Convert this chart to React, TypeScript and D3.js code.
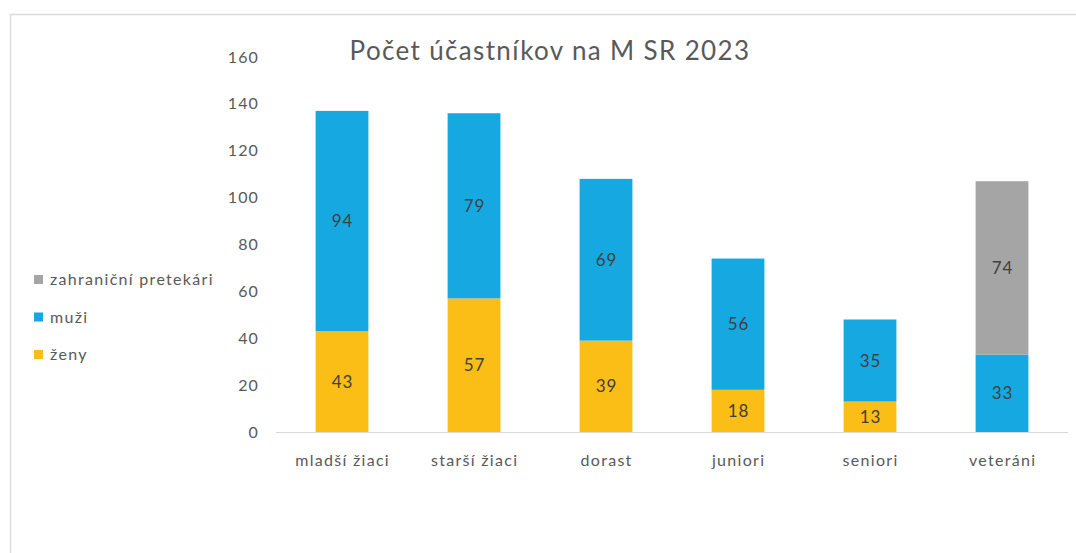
import React from "react";
import * as d3 from "d3";

const categories = ["mladší žiaci", "starší žiaci", "dorast", "juniori", "seniori", "veteráni"];
const zeny = [43, 57, 39, 18, 13, 0];
const muzi = [94, 79, 69, 56, 35, 33];
const zahranicni = [0, 0, 0, 0, 0, 74];
const seriesNames = ["ženy", "muži", "zahraniční pretekári"];
const seriesColors = ["#FBBE17", "#16A8E0", "#A5A5A5"];
const yTicks = [0, 20, 40, 60, 80, 100, 120, 140, 160];
const title = "Počet účastníkov na M SR 2023";

const FONT = "Lato, 'Open Sans', sans-serif";

export default function App() {
  const W = 1076, H = 553;
  const left = 276, right = 1068, top = 57, bottom = 432;
  const x = d3.scaleBand<string>().domain(categories).range([left, right]).paddingInner(0.6).paddingOuter(0.3);
  const y = d3.scaleLinear().domain([0, 160]).range([bottom, top]);
  const rows = categories.map((c, i) => ({ cat: c, "ženy": zeny[i], "muži": muzi[i], "zahraniční pretekári": zahranicni[i] }));
  const stack = d3.stack<any>().keys(seriesNames)(rows);
  const legendOrder = [2, 1, 0];
  return (
    <svg width={W} height={H} style={{ position: "absolute", left: 0, top: 0, background: "#fff" }} fontFamily={FONT}>
      <line x1={10.5} y1={14} x2={10.5} y2={H} stroke="#DCDCDC" strokeWidth={1.5} />
      <line x1={10} y1={14.5} x2={W} y2={14.5} stroke="#DCDCDC" strokeWidth={1.5} />
      <text x={550} y={60} textAnchor="middle" fontSize={26} letterSpacing={1.35} fill="#595959">{title}</text>
      {yTicks.map(t => (
        <text key={t} x={259} y={y(t) + 5.5} textAnchor="end" fontSize={16} letterSpacing={1.1} fill="#595959">{t}</text>
      ))}
      {stack.map((s, si) => (
        <g key={s.key} fill={seriesColors[si]}>
          {s.map((d, i) => d[1] - d[0] > 0 ? (
            <g key={i}>
              <rect x={x(categories[i])} y={y(d[1])} width={x.bandwidth()} height={y(d[0]) - y(d[1])} />
              <text x={(x(categories[i]) as number) + x.bandwidth() / 2 + 0.5} y={(y(d[0]) + y(d[1])) / 2 + 6} textAnchor="middle" fontSize={17} letterSpacing={1} fill="#404040">{d[1] - d[0]}</text>
            </g>
          ) : null)}
        </g>
      ))}
      <line x1={left} y1={bottom + 0.5} x2={right} y2={bottom + 0.5} stroke="#D9D9D9" strokeWidth={1} />
      {categories.map(c => (
        <text key={c} x={(x(c) as number) + x.bandwidth() / 2 + 0.6} y={466} textAnchor="middle" fontSize={16} letterSpacing={1.3} fill="#595959">{c}</text>
      ))}
      {legendOrder.map((si, k) => (
        <g key={si}>
          <rect x={34} y={285 + k * 37.5 - 10} width={9} height={9} fill={seriesColors[si]} />
          <text x={50} y={285 + k * 37.5} fontSize={16} letterSpacing={1.3} fill="#595959">{seriesNames[si]}</text>
        </g>
      ))}
    </svg>
  );
}
